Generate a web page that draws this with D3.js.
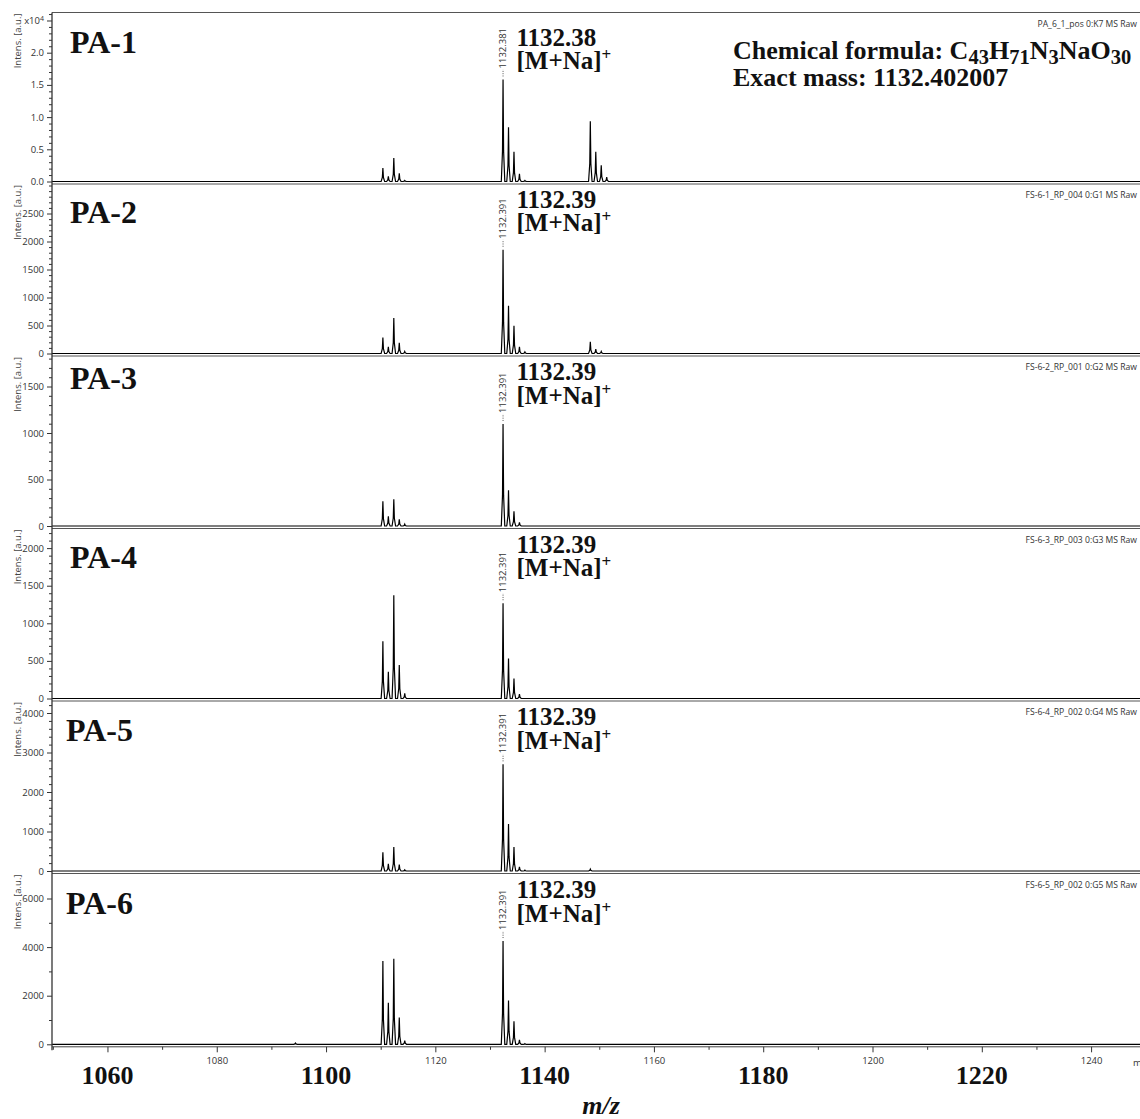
<!DOCTYPE html>
<html><head><meta charset="utf-8">
<script src="https://cdn.jsdelivr.net/npm/d3@7"></script>
<style>body{margin:0;background:#fff}svg{display:block}</style>
</head><body>
<svg id="c" width="1140" height="1119"></svg>
<script>
// ---------------- DATA ----------------
const panelNames = ["PA-1", "PA-2", "PA-3", "PA-4", "PA-5", "PA-6"];
const fileLabels = ["PA_6_1_pos 0:K7 MS Raw", "FS-6-1_RP_004 0:G1 MS Raw", "FS-6-2_RP_001 0:G2 MS Raw",
  "FS-6-3_RP_003 0:G3 MS Raw", "FS-6-4_RP_002 0:G4 MS Raw", "FS-6-5_RP_002 0:G5 MS Raw"];
const peakLabels = ["1132.381", "1132.391", "1132.391", "1132.391", "1132.391", "1132.391"];
const annotMass = ["1132.38", "1132.39", "1132.39", "1132.39", "1132.39", "1132.39"];
const labelledMz = 1132.39;

// m/z of the isotope peaks
const peakMz = [1094.40,
  1110.40, 1111.40, 1112.40, 1113.40, 1114.40,
  1132.39, 1133.39, 1134.39, 1135.39, 1136.39,
  1148.36, 1149.36, 1150.36, 1151.36];
// intensities per panel (a.u.)
const pa1 = [0, 2110, 820, 3660, 1290, 160, 15840, 8430, 4600, 1180, 160, 9360, 4600, 2530, 670];
const pa2 = [0, 286, 120, 632, 191, 36, 1852, 852, 495, 120, 30, 209, 79, 36, 0];
const pa3 = [0, 266, 105, 287, 71, 20, 1097, 384, 158, 39, 0, 0, 0, 0, 0];
const pa4 = [0, 760, 355, 1373, 444, 67, 1267, 533, 267, 57, 0, 0, 0, 0, 0];
const pa5 = [0, 476, 185, 608, 160, 30, 2700, 1190, 608, 106, 20, 50, 0, 0, 0];
const pa6 = [50, 3430, 1710, 3520, 1100, 150, 4250, 1800, 950, 180, 30, 0, 0, 0, 0];
const intensities = [pa1, pa2, pa3, pa4, pa5, pa6];

// axes
const xDomain = [1049.85, 1248.95];
const yMax = [26240, 3027, 1828, 2261, 4304, 7029];
const yMajorStep = [5000, 500, 500, 500, 1000, 2000];
const yMinorStep = [1000, 100, 100, 100, 200, 1000];
const p1TickLabels = ["0.0", "0.5", "1.0", "1.5", "2.0", "x10"];
const xTickValues = [1050, 1060, 1070, 1080, 1090, 1100, 1110, 1120, 1130, 1140, 1150, 1160, 1170, 1180, 1190, 1200, 1210, 1220, 1230, 1240];
const xSmallLabels = [1080, 1120, 1160, 1200, 1240];
const xBigLabels = [1060, 1100, 1140, 1180, 1220];

// ---------------- LAYOUT ----------------
const L = {
  left: 52, right: 1140, firstTop: 12.5, gap: 2.5,
  zeros: [181.5, 353.5, 526, 698.5, 871, 1044.3],
  nameX: [70, 70, 70, 70, 66, 66],
  nameDy: [129, 131, 137, 131, 130, 130],
  annDy: [136, 146, 146, 146, 146, 146]
};
const SERIF = "'Liberation Serif','Times New Roman',serif";
const SANS = "'Open Sans','DejaVu Sans',sans-serif";

const svg = d3.select("#c");
const X = d3.scaleLinear().domain(xDomain).range([L.left, L.right]);
const shape = [[-0.32, 0], [-0.1, 0.3], [0, 1], [0.1, 0.3], [0.32, 0]];

intensities.forEach((vals, i) => {
  const Z = L.zeros[i];
  const T = i === 0 ? L.firstTop : L.zeros[i - 1] + L.gap;
  const Y = d3.scaleLinear().domain([0, yMax[i]]).range([Z, T]);
  const g = svg.append("g");

  // top frame line
  g.append("line").attr("x1", L.left).attr("x2", L.right).attr("y1", T).attr("y2", T)
    .attr("stroke", "#555").attr("stroke-width", 1);

  // spectrum
  const pts = [[xDomain[0], 0]];
  peakMz.forEach((mz, k) => {
    const v = vals[k];
    if (v > 0) shape.forEach(s => pts.push([mz + s[0], v * s[1]]));
  });
  pts.push([xDomain[1], 0]);
  const line = d3.line().x(d => X(d[0])).y(d => Y(d[1]));
  g.append("path").attr("d", line(pts)).attr("fill", "#fff").attr("stroke", "#000")
    .attr("stroke-width", 1.2).attr("stroke-linejoin", "miter");

  // y axis minor + major
  const majors = d3.range(0, yMax[i] + 1e-6, yMajorStep[i]).filter(v => Y(v) > T + 3);
  const minors = d3.range(0, yMax[i] + 1e-6, yMinorStep[i]).filter(v => Y(v) > T + 1 && majors.indexOf(v) < 0);
  const gMin = g.append("g").attr("transform", `translate(${L.left},0)`)
    .call(d3.axisLeft(Y).tickValues(minors).tickSize(3).tickFormat(""));
  gMin.select(".domain").remove();
  gMin.selectAll("line").attr("stroke", "#333");
  const gMaj = g.append("g").attr("transform", `translate(${L.left},0)`)
    .call(d3.axisLeft(Y).tickValues(majors).tickSize(5).tickPadding(3)
      .tickFormat((v, k) => i === 0 ? p1TickLabels[k] : String(v)));
  gMaj.select(".domain").remove();
  gMaj.selectAll("line").attr("stroke", "#333");
  gMaj.selectAll("text").attr("font-family", SANS).attr("font-size", 9.5).attr("fill", "#333");
  if (i === 0) {
    const last = gMaj.selectAll(".tick text").filter((d, k) => k === majors.length - 1);
    last.append("tspan").attr("dy", "-0.45em").attr("font-size", 7).text("4");
  }

  // y label
  g.append("text").attr("transform", `translate(20.5,${T + 1}) rotate(-90)`)
    .attr("text-anchor", "end").attr("font-family", SANS).attr("font-size", 9.5).attr("fill", "#444")
    .text("Intens. [a.u.]");

  // file label
  g.append("text").attr("x", 1137).attr("y", T + 14).attr("text-anchor", "end")
    .attr("font-family", SANS).attr("font-size", 8.6).attr("fill", "#333").text(fileLabels[i]);

  // panel name
  g.append("text").attr("x", L.nameX[i]).attr("y", Z - L.nameDy[i])
    .attr("font-family", SERIF).attr("font-weight", "bold").attr("font-size", 32).attr("fill", "#111")
    .text(panelNames[i]);

  // vertical peak label
  const kLab = peakMz.indexOf(labelledMz);
  const px = X(labelledMz), py = Y(vals[kLab]);
  g.append("line").attr("x1", px).attr("x2", px).attr("y1", py - 3).attr("y2", py - 10)
    .attr("stroke", "#555").attr("stroke-width", 1).attr("stroke-dasharray", "1,1.3");
  g.append("text").attr("transform", `translate(${px + 3.4},${py - 11}) rotate(-90)`)
    .attr("font-family", SANS).attr("font-size", 9.5).attr("fill", "#333").text(peakLabels[i]);

  // annotation
  const ay = Z - L.annDy[i];
  g.append("text").attr("x", 516.5).attr("y", ay).attr("font-family", SERIF).attr("font-weight", "bold")
    .attr("font-size", 25).attr("fill", "#111").text(annotMass[i]);
  const t2 = g.append("text").attr("x", 516.5).attr("y", ay + 23.5).attr("font-family", SERIF)
    .attr("font-weight", "bold").attr("font-size", 25).attr("fill", "#111");
  t2.append("tspan").text("[M+Na]");
  t2.append("tspan").attr("dy", -9).attr("font-size", 17).text("+");
});

// chemical formula (panel 1)
const f1 = svg.append("text").attr("x", 733).attr("y", 58.5).attr("font-family", SERIF)
  .attr("font-weight", "bold").attr("font-size", 26).attr("fill", "#111");
[["Chemical formula: C", 0], ["43", 1], ["H", 0], ["71", 1], ["N", 0], ["3", 1], ["NaO", 0], ["30", 1]]
  .forEach((s, k, arr) => {
    const prevSub = k > 0 && arr[k - 1][1] === 1;
    const ts = f1.append("tspan").text(s[0]);
    if (s[1]) ts.attr("dy", 5).attr("font-size", 20.5);
    else if (prevSub) ts.attr("dy", -5);
  });
svg.append("text").attr("x", 733).attr("y", 86).attr("font-family", SERIF).attr("font-weight", "bold")
  .attr("font-size", 26).attr("fill", "#111").text("Exact mass: 1132.402007");

// y axis line
svg.append("line").attr("x1", L.left).attr("x2", L.left).attr("y1", L.firstTop).attr("y2", L.zeros[5] + 6)
  .attr("stroke", "#333").attr("stroke-width", 1.3);

// bottom x-axis
const axY = L.zeros[5] + L.gap;
svg.append("line").attr("x1", L.left).attr("x2", L.right).attr("y1", axY).attr("y2", axY)
  .attr("stroke", "#444").attr("stroke-width", 1);
const gxMin = svg.append("g").attr("transform", `translate(0,${axY})`)
  .call(d3.axisBottom(X).tickValues(xTickValues.filter(v => v % 20 !== 0)).tickSize(3).tickFormat(""));
gxMin.select(".domain").remove();
const gxMaj = svg.append("g").attr("transform", `translate(0,${axY})`)
  .call(d3.axisBottom(X).tickValues(xTickValues.filter(v => v % 20 === 0)).tickSize(5.5).tickPadding(5)
    .tickFormat(v => xSmallLabels.indexOf(v) >= 0 ? String(v) : ""));
gxMaj.select(".domain").remove();
svg.selectAll(".tick line").attr("stroke", "#333");
gxMaj.selectAll("text").attr("font-family", SANS).attr("font-size", 9.5).attr("fill", "#333");
svg.append("text").attr("x", 1133).attr("y", axY + 19).attr("font-family", SANS).attr("font-size", 9.5)
  .attr("fill", "#333").text("m/z");

// big x labels
svg.append("g").selectAll("text").data(xBigLabels).join("text")
  .attr("x", d => X(d)).attr("y", 1083.5).attr("text-anchor", "middle")
  .attr("font-family", SERIF).attr("font-weight", "bold").attr("font-size", 26).attr("fill", "#111")
  .text(d => d);
svg.append("text").attr("x", 601).attr("y", 1114).attr("text-anchor", "middle")
  .attr("font-family", SERIF).attr("font-weight", "bold").attr("font-style", "italic")
  .attr("font-size", 26).attr("fill", "#111").text("m/z");
</script>
</body></html>
